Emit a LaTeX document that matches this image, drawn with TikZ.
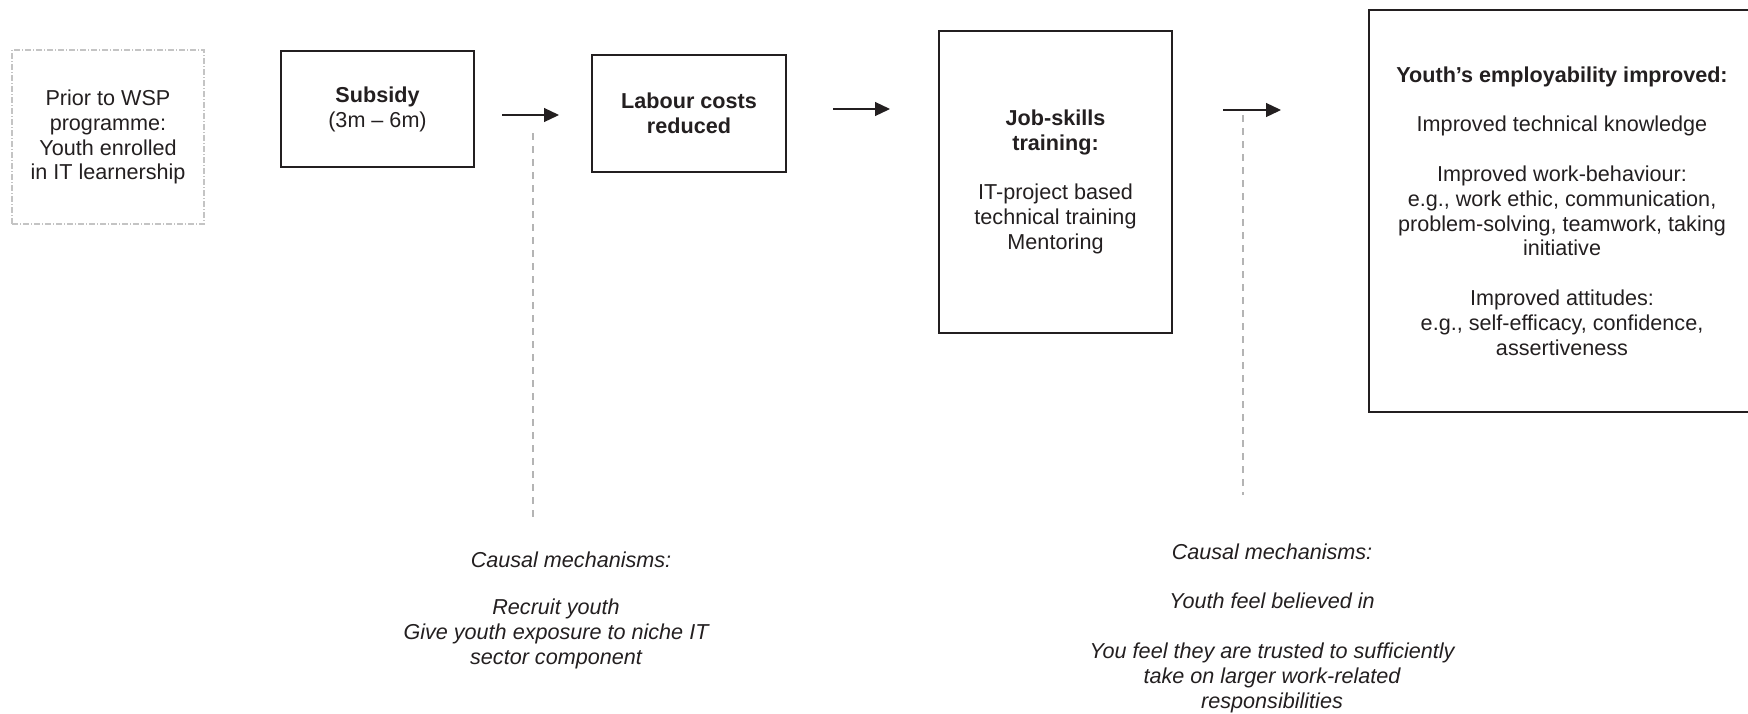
\documentclass[tikz,border=0pt]{standalone}
\usepackage{fontspec}
\setmainfont{Liberation Sans}
\usetikzlibrary{arrows.meta}
\definecolor{ink}{HTML}{231F20}
\definecolor{guidegray}{HTML}{B4B4B4}
\definecolor{faintgray}{HTML}{C4C4C4}
\tikzset{
  txt/.style={text=ink, align=center, font=\fontsize{10.8}{12.45}\selectfont},
  stagebox/.style={txt, draw=ink, line width=1pt, inner sep=0pt},
  priorbox/.style={txt, draw=faintgray, line width=0.6pt,
    dash pattern=on 3pt off 1pt on 0.5pt off 1pt, inner sep=0pt},
  flow/.style={draw=ink, line width=0.6pt, -{Triangle[length=7.5pt,width=7pt]}},
  mechline/.style={draw=guidegray, line width=0.8pt, dash pattern=on 3.5pt off 3pt},
  mech/.style={txt, font=\fontsize{10.8}{12.45}\selectfont\itshape}
}
\begin{document}
\begin{tikzpicture}[x=0.5pt,y=-0.5pt]
\useasboundingbox (0,0) rectangle (1748,713);

% stages of the chain
\node[priorbox, minimum width=96pt, minimum height=87pt] (prior) at (108,137)
  {Prior to WSP\\programme:\\Youth enrolled\\in IT learnership};
\node[stagebox, minimum width=96.5pt, minimum height=58pt] (subsidy) at (377.5,109)
  {\textbf{Subsidy}\\(3m -- 6m)};
\node[stagebox, minimum width=97pt, minimum height=58.5pt] (labour) at (689,113.5)
  {\textbf{Labour costs}\\\textbf{reduced}};
\node[stagebox, minimum width=116.5pt, minimum height=151pt] (job) at (1055.5,182)
  {\textbf{Job-skills}\\\textbf{training:}\\[12.3pt]IT-project based\\technical training\\Mentoring};
\node[stagebox, minimum width=193pt, minimum height=201pt] (outcome) at (1562,211)
  {\textbf{Youth’s employability improved:}\\[12.3pt]
   Improved technical knowledge\\[12.3pt]
   Improved work-behaviour:\\e.g., work ethic, communication,\\problem-solving, teamwork, taking\\initiative\\[12.3pt]
   Improved attitudes:\\e.g., self-efficacy, confidence,\\assertiveness};

% arrow ends and guide ends
\coordinate (a1s) at (502,115);  \coordinate (a1e) at (559,115);
\coordinate (a2s) at (833,109);  \coordinate (a2e) at (890,109);
\coordinate (a3s) at (1223,110); \coordinate (a3e) at (1281,110);
\coordinate (d1t) at (533,133);  \coordinate (d1b) at (533,517);
\coordinate (d2t) at (1243,115); \coordinate (d2b) at (1243,495);

\draw[flow] (a1s) -- (a1e);
\draw[flow] (a2s) -- (a2e);
\draw[flow] (a3s) -- (a3e);
\draw[mechline] (d1t) -- (d1b);
\draw[mechline] (d2t) -- (d2b);

% causal mechanisms
\node[mech] (mech1title) at (571,560) {Causal mechanisms:};
\node[mech] (mech1body) at (556,634)
  {Recruit youth\\Give youth exposure to niche IT\\sector component};
\node[mech] (mech2) at (1272,628)
  {Causal mechanisms:\\[12.3pt]Youth feel believed in\\[12.3pt]You feel they are trusted to sufficiently\\take on larger work-related\\responsibilities};
\end{tikzpicture}
\end{document}
